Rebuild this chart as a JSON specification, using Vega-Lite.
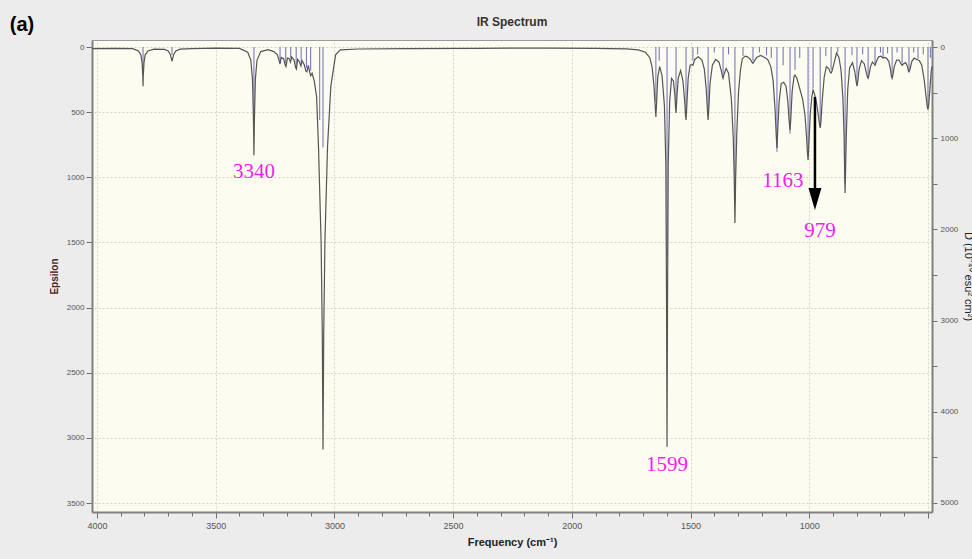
{
  "$schema": "https://vega.github.io/schema/vega-lite/v6.json",
  "width": 840,
  "height": 472,
  "autosize": {"type": "none"},
  "padding": {"left": 92, "top": 40, "right": 40, "bottom": 47},
  "background": "#ececec",
  "title": {"text": "IR Spectrum", "fontSize": 12, "fontWeight": "bold", "font": "Liberation Sans", "color": "#333333", "offset": -14, "frame": "group"},
  "config": {
    "view": {"fill": "#fcfcf0", "stroke": "#9a9a9a", "strokeWidth": 1},
    "axis": {"labelFont": "Liberation Sans", "titleFont": "Liberation Sans", "labelOverlap": false, "labelBound": false}
  },
  "datasets": {
    "curve": [
      {"wn": 4021, "eps": 12}, {"wn": 3920, "eps": 10}, {"wn": 3850, "eps": 12}, {"wn": 3825, "eps": 30}, {"wn": 3815, "eps": 60}, {"wn": 3810, "eps": 120}, {"wn": 3807, "eps": 220}, {"wn": 3806, "eps": 300}, {"wn": 3805, "eps": 220}, {"wn": 3802, "eps": 120}, {"wn": 3797, "eps": 60}, {"wn": 3785, "eps": 30}, {"wn": 3760, "eps": 16},
      {"wn": 3715, "eps": 18}, {"wn": 3700, "eps": 30}, {"wn": 3692, "eps": 55}, {"wn": 3687, "eps": 85}, {"wn": 3684, "eps": 110}, {"wn": 3681, "eps": 85}, {"wn": 3676, "eps": 55}, {"wn": 3668, "eps": 30}, {"wn": 3650, "eps": 16},
      {"wn": 3600, "eps": 12}, {"wn": 3500, "eps": 8}, {"wn": 3400, "eps": 10}, {"wn": 3365, "eps": 40}, {"wn": 3352, "eps": 100}, {"wn": 3345, "eps": 250}, {"wn": 3341, "eps": 560}, {"wn": 3339, "eps": 830}, {"wn": 3337, "eps": 560}, {"wn": 3333, "eps": 250}, {"wn": 3326, "eps": 100}, {"wn": 3310, "eps": 35}, {"wn": 3280, "eps": 20},
      {"wn": 3255, "eps": 35}, {"wn": 3240, "eps": 60}, {"wn": 3232, "eps": 110}, {"wn": 3229, "eps": 130}, {"wn": 3224, "eps": 80}, {"wn": 3214, "eps": 90}, {"wn": 3207, "eps": 140}, {"wn": 3204, "eps": 150}, {"wn": 3198, "eps": 85}, {"wn": 3190, "eps": 90}, {"wn": 3185, "eps": 115}, {"wn": 3180, "eps": 75}, {"wn": 3170, "eps": 100}, {"wn": 3163, "eps": 160}, {"wn": 3160, "eps": 170}, {"wn": 3155, "eps": 95}, {"wn": 3147, "eps": 115}, {"wn": 3141, "eps": 145}, {"wn": 3136, "eps": 105}, {"wn": 3127, "eps": 135}, {"wn": 3120, "eps": 185}, {"wn": 3116, "eps": 190}, {"wn": 3110, "eps": 140}, {"wn": 3104, "eps": 195}, {"wn": 3100, "eps": 220}, {"wn": 3094, "eps": 200}, {"wn": 3085, "eps": 260}, {"wn": 3075, "eps": 380}, {"wn": 3067, "eps": 765}, {"wn": 3056, "eps": 1500}, {"wn": 3051, "eps": 2200}, {"wn": 3048, "eps": 3090}, {"wn": 3045, "eps": 2200}, {"wn": 3040, "eps": 1500}, {"wn": 3029, "eps": 765}, {"wn": 3015, "eps": 300}, {"wn": 2995, "eps": 60}, {"wn": 2975, "eps": 22},
      {"wn": 2900, "eps": 15}, {"wn": 2700, "eps": 12}, {"wn": 2400, "eps": 10}, {"wn": 2100, "eps": 8}, {"wn": 1900, "eps": 10}, {"wn": 1770, "eps": 14}, {"wn": 1720, "eps": 22}, {"wn": 1690, "eps": 40}, {"wn": 1672, "eps": 80},
      {"wn": 1662, "eps": 150}, {"wn": 1654, "eps": 300}, {"wn": 1649, "eps": 450}, {"wn": 1646, "eps": 537}, {"wn": 1643, "eps": 430}, {"wn": 1638, "eps": 230}, {"wn": 1630, "eps": 150}, {"wn": 1620, "eps": 220}, {"wn": 1610, "eps": 450}, {"wn": 1604, "eps": 900}, {"wn": 1601, "eps": 2000}, {"wn": 1599, "eps": 3068}, {"wn": 1597, "eps": 2000}, {"wn": 1594, "eps": 900}, {"wn": 1588, "eps": 420}, {"wn": 1580, "eps": 240},
      {"wn": 1572, "eps": 260}, {"wn": 1566, "eps": 370}, {"wn": 1563, "eps": 470}, {"wn": 1561, "eps": 506}, {"wn": 1558, "eps": 400}, {"wn": 1552, "eps": 240}, {"wn": 1542, "eps": 180}, {"wn": 1532, "eps": 260}, {"wn": 1524, "eps": 430}, {"wn": 1521, "eps": 530}, {"wn": 1519, "eps": 560}, {"wn": 1516, "eps": 460}, {"wn": 1510, "eps": 240}, {"wn": 1502, "eps": 140}, {"wn": 1494, "eps": 135}, {"wn": 1490, "eps": 140}, {"wn": 1482, "eps": 95}, {"wn": 1468, "eps": 75}, {"wn": 1452, "eps": 100},
      {"wn": 1442, "eps": 170}, {"wn": 1434, "eps": 320}, {"wn": 1429, "eps": 480}, {"wn": 1426, "eps": 560}, {"wn": 1423, "eps": 470}, {"wn": 1418, "eps": 280}, {"wn": 1408, "eps": 140}, {"wn": 1394, "eps": 95}, {"wn": 1380, "eps": 115}, {"wn": 1370, "eps": 185}, {"wn": 1365, "eps": 230}, {"wn": 1363, "eps": 240}, {"wn": 1360, "eps": 215}, {"wn": 1350, "eps": 165},
      {"wn": 1340, "eps": 200}, {"wn": 1328, "eps": 400}, {"wn": 1320, "eps": 700}, {"wn": 1316, "eps": 1000}, {"wn": 1313, "eps": 1350}, {"wn": 1310, "eps": 1000}, {"wn": 1305, "eps": 650}, {"wn": 1298, "eps": 350}, {"wn": 1290, "eps": 180}, {"wn": 1282, "eps": 90}, {"wn": 1279, "eps": 85}, {"wn": 1270, "eps": 70}, {"wn": 1260, "eps": 75}, {"wn": 1248, "eps": 95}, {"wn": 1240, "eps": 120}, {"wn": 1237, "eps": 125}, {"wn": 1232, "eps": 110}, {"wn": 1222, "eps": 80}, {"wn": 1205, "eps": 65},
      {"wn": 1188, "eps": 80}, {"wn": 1175, "eps": 95}, {"wn": 1162, "eps": 150}, {"wn": 1152, "eps": 260}, {"wn": 1144, "eps": 480}, {"wn": 1139, "eps": 680}, {"wn": 1136, "eps": 775}, {"wn": 1133, "eps": 650}, {"wn": 1127, "eps": 420}, {"wn": 1118, "eps": 280}, {"wn": 1108, "eps": 270}, {"wn": 1098, "eps": 300}, {"wn": 1090, "eps": 420}, {"wn": 1085, "eps": 560}, {"wn": 1081, "eps": 637}, {"wn": 1078, "eps": 560}, {"wn": 1072, "eps": 340}, {"wn": 1064, "eps": 225}, {"wn": 1060, "eps": 215}, {"wn": 1052, "eps": 240},
      {"wn": 1040, "eps": 320}, {"wn": 1028, "eps": 400}, {"wn": 1018, "eps": 520}, {"wn": 1011, "eps": 700}, {"wn": 1008, "eps": 800}, {"wn": 1005, "eps": 867}, {"wn": 1002, "eps": 760}, {"wn": 996, "eps": 520}, {"wn": 989, "eps": 380}, {"wn": 984, "eps": 330}, {"wn": 978, "eps": 360}, {"wn": 970, "eps": 420}, {"wn": 962, "eps": 520}, {"wn": 957, "eps": 590}, {"wn": 954, "eps": 621}, {"wn": 951, "eps": 580}, {"wn": 945, "eps": 400}, {"wn": 937, "eps": 230}, {"wn": 928, "eps": 150},
      {"wn": 918, "eps": 165}, {"wn": 911, "eps": 195}, {"wn": 908, "eps": 200}, {"wn": 904, "eps": 185}, {"wn": 895, "eps": 120}, {"wn": 885, "eps": 45}, {"wn": 875, "eps": 80}, {"wn": 866, "eps": 180}, {"wn": 858, "eps": 400}, {"wn": 853, "eps": 700}, {"wn": 851, "eps": 950}, {"wn": 849, "eps": 1120}, {"wn": 847, "eps": 950}, {"wn": 844, "eps": 680}, {"wn": 838, "eps": 330}, {"wn": 830, "eps": 160}, {"wn": 818, "eps": 120},
      {"wn": 808, "eps": 190}, {"wn": 802, "eps": 270}, {"wn": 799, "eps": 300}, {"wn": 796, "eps": 270}, {"wn": 790, "eps": 170}, {"wn": 780, "eps": 105}, {"wn": 768, "eps": 130}, {"wn": 758, "eps": 210}, {"wn": 754, "eps": 235}, {"wn": 752, "eps": 240}, {"wn": 749, "eps": 220}, {"wn": 742, "eps": 150}, {"wn": 734, "eps": 115}, {"wn": 727, "eps": 130}, {"wn": 723, "eps": 140}, {"wn": 718, "eps": 115}, {"wn": 708, "eps": 75}, {"wn": 698, "eps": 70}, {"wn": 692, "eps": 80}, {"wn": 689, "eps": 85}, {"wn": 685, "eps": 80}, {"wn": 675, "eps": 85},
      {"wn": 665, "eps": 110}, {"wn": 658, "eps": 170}, {"wn": 654, "eps": 225}, {"wn": 651, "eps": 240}, {"wn": 648, "eps": 220}, {"wn": 642, "eps": 150}, {"wn": 632, "eps": 100}, {"wn": 622, "eps": 100}, {"wn": 613, "eps": 130}, {"wn": 609, "eps": 140}, {"wn": 604, "eps": 130}, {"wn": 594, "eps": 120}, {"wn": 586, "eps": 150}, {"wn": 582, "eps": 185}, {"wn": 580, "eps": 190}, {"wn": 577, "eps": 180}, {"wn": 568, "eps": 110}, {"wn": 558, "eps": 85}, {"wn": 547, "eps": 95}, {"wn": 542, "eps": 100}, {"wn": 536, "eps": 105},
      {"wn": 526, "eps": 140}, {"wn": 516, "eps": 250}, {"wn": 508, "eps": 380}, {"wn": 503, "eps": 460}, {"wn": 500, "eps": 480}, {"wn": 497, "eps": 450}, {"wn": 491, "eps": 300}, {"wn": 486, "eps": 180}, {"wn": 483, "eps": 150}
    ],
    "sticks": [
      {"wn": 3806, "intensity": 250}, {"wn": 3684, "intensity": 90}, {"wn": 3339, "intensity": 700}, {"wn": 3229, "intensity": 150}, {"wn": 3205, "intensity": 180}, {"wn": 3184, "intensity": 120}, {"wn": 3161, "intensity": 200}, {"wn": 3140, "intensity": 170}, {"wn": 3118, "intensity": 230}, {"wn": 3100, "intensity": 260}, {"wn": 3062, "intensity": 800}, {"wn": 3048, "intensity": 1100},
      {"wn": 1646, "intensity": 600}, {"wn": 1632, "intensity": 150}, {"wn": 1599, "intensity": 2300}, {"wn": 1561, "intensity": 650}, {"wn": 1519, "intensity": 700}, {"wn": 1490, "intensity": 150}, {"wn": 1470, "intensity": 80}, {"wn": 1426, "intensity": 700}, {"wn": 1400, "intensity": 60}, {"wn": 1363, "intensity": 300}, {"wn": 1340, "intensity": 80}, {"wn": 1313, "intensity": 1700}, {"wn": 1279, "intensity": 100}, {"wn": 1237, "intensity": 150}, {"wn": 1210, "intensity": 60}, {"wn": 1180, "intensity": 90}, {"wn": 1160, "intensity": 120}, {"wn": 1136, "intensity": 1150}, {"wn": 1110, "intensity": 200}, {"wn": 1081, "intensity": 950}, {"wn": 1060, "intensity": 250}, {"wn": 1040, "intensity": 120}, {"wn": 1005, "intensity": 1200}, {"wn": 984, "intensity": 450}, {"wn": 954, "intensity": 850}, {"wn": 930, "intensity": 100}, {"wn": 908, "intensity": 250}, {"wn": 880, "intensity": 60}, {"wn": 849, "intensity": 1500}, {"wn": 820, "intensity": 90}, {"wn": 799, "intensity": 400}, {"wn": 775, "intensity": 80}, {"wn": 752, "intensity": 330}, {"wn": 723, "intensity": 180}, {"wn": 700, "intensity": 60}, {"wn": 689, "intensity": 110}, {"wn": 670, "intensity": 70}, {"wn": 651, "intensity": 320}, {"wn": 630, "intensity": 60}, {"wn": 609, "intensity": 180}, {"wn": 580, "intensity": 260}, {"wn": 560, "intensity": 60}, {"wn": 542, "intensity": 130}, {"wn": 520, "intensity": 80}, {"wn": 500, "intensity": 650}, {"wn": 490, "intensity": 120}
    ],
    "labels": [
      {"wn": 3339, "eps": 959, "text": "3340"},
      {"wn": 1599, "eps": 3206, "text": "1599"},
      {"wn": 1111, "eps": 1028, "text": "1163"},
      {"wn": 955, "eps": 1411, "text": "979"}
    ],
    "arrow": [
      {"wn": 976, "eps": 383, "eps2": 1110, "head": 1166}
    ],
    "panel": [
      {"wn": 4316, "eps": -169, "text": "(a)"}
    ]
  },
  "resolve": {"scale": {"y": "independent"}},
  "layer": [
    {
      "data": {"name": "sticks"},
      "mark": {"type": "rule", "color": "#5555b0", "strokeWidth": 1, "opacity": 0.85},
      "encoding": {
        "x": {"field": "wn", "type": "quantitative", "scale": {"domain": [483, 4021], "reverse": true, "nice": false, "zero": false},
          "axis": {
            "values": [4000,3900,3800,3700,3600,3500,3400,3300,3200,3100,3000,2900,2800,2700,2600,2500,2400,2300,2200,2100,2000,1900,1800,1700,1600,1500,1400,1300,1200,1100,1000,900,800,700,600,500],
            "tickCount": 100,
            "format": "d",
            "labelOverlap": false,
            "labelExpr": "(datum.value % 500 == 0 && datum.value >= 1000) ? datum.label : ''",
            "labelFontSize": 9, "labelColor": "#555555", "labelPadding": 3,
            "tickColor": "#707070",
            "tickSize": {"condition": {"test": "datum.value % 500 == 0", "value": 6}, "value": 4},
            "domainColor": "#808080", "domainWidth": 2,
            "grid": true,
            "gridColor": {"condition": {"test": "datum.value % 500 == 0", "value": "#d6d6c4"}, "value": "transparent"},
            "gridDash": [2, 2],
            "title": "Frequency (cm⁻¹)", "titleFontSize": 11, "titleFontWeight": "bold", "titleColor": "#222222", "titlePadding": 6
          }
        },
        "y": {"field": "intensity", "type": "quantitative", "scale": {"domain": [-77, 5099], "reverse": true, "nice": false, "zero": false},
          "axis": {
            "orient": "right",
            "values": [0,500,1000,1500,2000,2500,3000,3500,4000,4500,5000],
            "tickCount": 100,
            "format": "d",
            "labelOverlap": false,
            "labelExpr": "datum.value % 1000 == 0 ? datum.label : ''",
            "labelFontSize": 8, "labelColor": "#555555", "labelPadding": 3,
            "tickColor": "#707070", "tickSize": 5,
            "domainColor": "#808080", "domainWidth": 2,
            "grid": false,
            "title": "D (10⁻⁴⁰ esu² cm²)", "titleFontSize": 11, "titleFontWeight": "normal", "titleColor": "#222222", "titlePadding": 5
          }
        },
        "y2": {"datum": 0}
      }
    },
    {
      "data": {"name": "curve"},
      "mark": {"type": "line", "color": "#555555", "strokeWidth": 1.2},
      "encoding": {
        "x": {"field": "wn", "type": "quantitative"},
        "y": {"field": "eps", "type": "quantitative", "scale": {"domain": [-54, 3569], "reverse": true, "nice": false, "zero": false},
          "axis": {
            "orient": "left",
            "values": [0,500,1000,1500,2000,2500,3000,3500],
            "tickCount": 100,
            "format": "d",
            "labelOverlap": false,
            "labelFontSize": 8, "labelColor": "#555555", "labelPadding": 2,
            "tickColor": "#707070", "tickSize": 6,
            "domainColor": "#808080", "domainWidth": 2,
            "grid": true, "gridColor": "#d6d6c4", "gridDash": [2, 2],
            "title": "Epsilon", "titleFontSize": 10, "titleFontWeight": "bold", "titleColor": "#4a1f1f", "titlePadding": 7
          }
        }
      }
    },
    {
      "data": {"name": "arrow"},
      "mark": {"type": "rule", "color": "#000000", "strokeWidth": 2.5},
      "encoding": {
        "x": {"field": "wn", "type": "quantitative"},
        "y": {"field": "eps", "type": "quantitative", "scale": {"domain": [-54, 3569], "reverse": true, "nice": false, "zero": false}, "axis": null},
        "y2": {"field": "eps2"}
      }
    },
    {
      "data": {"name": "arrow"},
      "mark": {"type": "point", "shape": "M -0.59 -1 L 0.59 -1 L 0 1 Z", "filled": true, "color": "#000000", "size": 484, "opacity": 1},
      "encoding": {
        "x": {"field": "wn", "type": "quantitative"},
        "y": {"field": "head", "type": "quantitative", "scale": {"domain": [-54, 3569], "reverse": true, "nice": false, "zero": false}, "axis": null}
      }
    },
    {
      "data": {"name": "labels"},
      "mark": {"type": "text", "font": "Liberation Serif", "fontSize": 21, "color": "#f01ef0", "baseline": "middle", "align": "center"},
      "encoding": {
        "x": {"field": "wn", "type": "quantitative"},
        "y": {"field": "eps", "type": "quantitative", "scale": {"domain": [-54, 3569], "reverse": true, "nice": false, "zero": false}, "axis": null},
        "text": {"field": "text"}
      }
    },
    {
      "data": {"name": "panel"},
      "mark": {"type": "text", "font": "Liberation Sans", "fontSize": 20, "fontWeight": "bold", "color": "#000000", "baseline": "middle", "align": "center"},
      "encoding": {
        "x": {"field": "wn", "type": "quantitative"},
        "y": {"field": "eps", "type": "quantitative", "scale": {"domain": [-54, 3569], "reverse": true, "nice": false, "zero": false}, "axis": null},
        "text": {"field": "text"}
      }
    }
  ]
}
